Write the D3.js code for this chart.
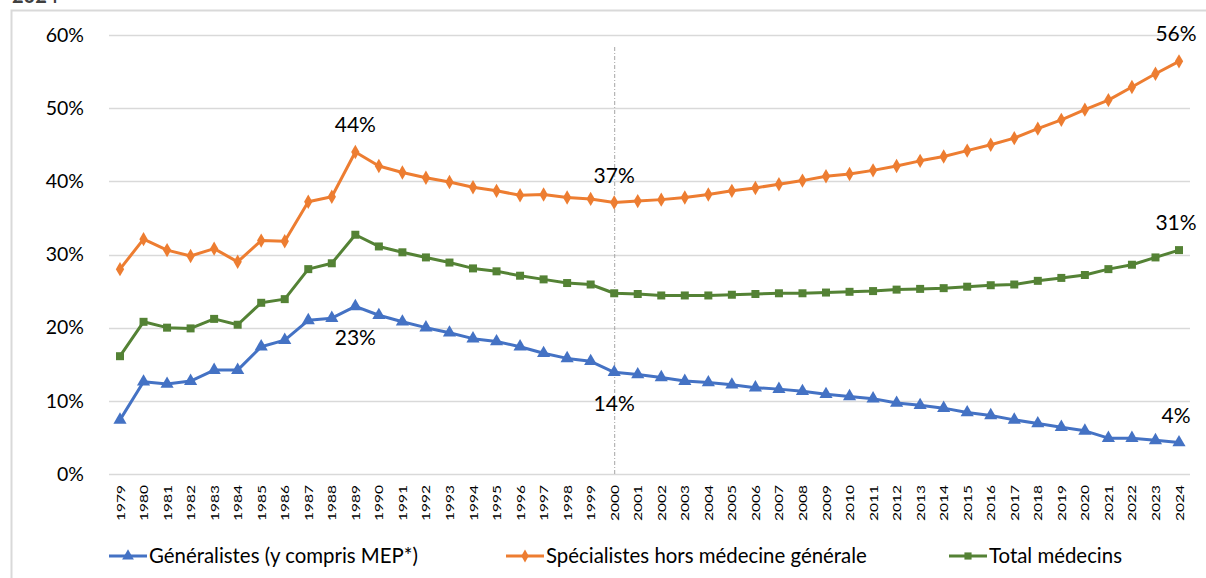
<!DOCTYPE html>
<html>
<head>
<meta charset="utf-8">
<script src="https://cdn.jsdelivr.net/npm/d3@7"></script>
<style>
  html, body { margin: 0; padding: 0; background: #fff; }
  svg { display: block; font-family: Lato, "Open Sans", sans-serif; }
</style>
</head>
<body>
<svg id="chart" width="1206" height="578"></svg>
<script>
const years = d3.range(1979, 2025).map(String);

const generalistes = [7.4, 12.6, 12.3, 12.7, 14.2, 14.2, 17.4, 18.3, 21.0, 21.3,
  22.9, 21.7, 20.8, 20.0, 19.3, 18.5, 18.1, 17.4, 16.5, 15.8,
  15.4, 13.9, 13.6, 13.2, 12.7, 12.5, 12.2, 11.8, 11.6, 11.3,
  10.9, 10.6, 10.3, 9.7, 9.4, 9.0, 8.4, 8.0, 7.4, 6.9,
  6.4, 5.9, 4.9, 4.9, 4.6, 4.3];

const specialistes = [28.0, 32.1, 30.6, 29.8, 30.8, 29.0, 31.9, 31.8, 37.2, 37.9,
  44.0, 42.1, 41.2, 40.5, 39.9, 39.2, 38.7, 38.1, 38.2, 37.8,
  37.6, 37.1, 37.3, 37.5, 37.8, 38.2, 38.7, 39.1, 39.6, 40.1,
  40.7, 41.0, 41.5, 42.1, 42.8, 43.4, 44.2, 45.0, 45.9, 47.2,
  48.4, 49.8, 51.1, 52.9, 54.7, 56.4];

const total = [16.1, 20.8, 20.0, 19.9, 21.2, 20.4, 23.4, 23.9, 28.0, 28.8,
  32.7, 31.1, 30.3, 29.6, 28.9, 28.1, 27.7, 27.1, 26.6, 26.1,
  25.9, 24.7, 24.6, 24.4, 24.4, 24.4, 24.5, 24.6, 24.7, 24.7,
  24.8, 24.9, 25.0, 25.2, 25.3, 25.4, 25.6, 25.8, 25.9, 26.4,
  26.8, 27.2, 28.0, 28.6, 29.6, 30.6];

const yTicks = [0, 10, 20, 30, 40, 50, 60];
const seriesNames = ["Généralistes (y compris MEP*)", "Spécialistes hors médecine générale", "Total médecins"];

// data labels
const annotations = [
  { s: 1, year: "1989", text: "44%", pos: "above" },
  { s: 0, year: "1989", text: "23%", pos: "below" },
  { s: 1, year: "2000", text: "37%", pos: "above" },
  { s: 0, year: "2000", text: "14%", pos: "below" },
  { s: 1, year: "2024", text: "56%", pos: "above" },
  { s: 2, year: "2024", text: "31%", pos: "above" },
  { s: 0, year: "2024", text: "4%", pos: "above" }
];
const refYear = "2000";

const series = [
  { name: seriesNames[0], values: generalistes, color: "#4472C4", symbol: d3.symbolTriangle, size: 75 },
  { name: seriesNames[1], values: specialistes, color: "#ED7D31", symbol: d3.symbolDiamond, size: 60 },
  { name: seriesNames[2], values: total, color: "#548235", symbol: d3.symbolSquare, size: 64 }
];

const svg = d3.select("#chart");

// frame
svg.append("path")
  .attr("d", "M11.5,578 L11.5,10.5 L1206,10.5")
  .attr("fill", "none").attr("stroke", "#d9d9d9").attr("stroke-width", 2);

// cut-off title remnant
svg.append("text").attr("x", 12).attr("y", 3).attr("font-size", 20)
  .attr("font-weight", "bold").attr("fill", "#404040").text("2024");

const plotLeft = 109, plotRight = 1190;
const x = d3.scalePoint().domain(years).range([120, 1179]);
const y = d3.scaleLinear().domain([0, 60]).range([474, 35]);

// gridlines
svg.append("g").selectAll("line").data(yTicks).join("line")
  .attr("x1", plotLeft).attr("x2", plotRight)
  .attr("y1", d => Math.round(y(d)) + 0.5).attr("y2", d => Math.round(y(d)) + 0.5)
  .attr("stroke", "#d9d9d9").attr("stroke-width", 1.5);

// y axis labels
const yAxis = d3.axisLeft(y).tickValues(yTicks).tickFormat(d => d + "%").tickSize(0).tickPadding(0);
const gy = svg.append("g").attr("transform", "translate(84,0)").call(yAxis);
gy.select(".domain").remove();
gy.selectAll("text").attr("font-size", 19.5).attr("fill", "#000").attr("font-family", "Lato, sans-serif");

// x axis labels
const xAxis = d3.axisBottom(x).tickSize(0).tickPadding(0);
const gx = svg.append("g").attr("transform", "translate(0,474)").call(xAxis);
gx.select(".domain").remove();
gx.selectAll("text")
  .attr("font-size", 11.5).attr("fill", "#000").attr("font-family", "Lato, sans-serif")
  .attr("text-anchor", "end")
  .attr("transform", "translate(0,11) rotate(-90) scale(1.35,1)")
  .attr("x", 0).attr("y", 0).attr("dy", "0.35em");

// dashed reference line
svg.append("line")
  .attr("x1", x(refYear) + 0.5).attr("x2", x(refYear) + 0.5)
  .attr("y1", 47).attr("y2", 474)
  .attr("stroke", "#a6a6a6").attr("stroke-width", 1)
  .attr("stroke-dasharray", "4,2,1,2");

// lines + markers
const line = d3.line().x((d, i) => x(years[i])).y(d => y(d));
series.forEach(s => {
  svg.append("path").datum(s.values)
    .attr("d", line).attr("fill", "none")
    .attr("stroke", s.color).attr("stroke-width", 3).attr("stroke-linejoin", "round");
  svg.append("g").selectAll("path").data(s.values).join("path")
    .attr("transform", (d, i) => `translate(${x(years[i])},${y(d)})`)
    .attr("d", d3.symbol().type(s.symbol).size(s.size))
    .attr("fill", s.color);
});

// data labels
svg.append("g").selectAll("text").data(annotations).join("text")
  .attr("x", d => x(d.year) + (d.year === "2024" ? -3 : 0))
  .attr("y", d => {
    const v = series[d.s].values[years.indexOf(d.year)];
    return d.pos === "above" ? y(v) - 20 : y(v) + 39;
  })
  .attr("text-anchor", "middle")
  .attr("font-size", 21).attr("fill", "#000")
  .text(d => d.text);

// legend
const legendX = [109, 506, 949];
const lg = svg.append("g").selectAll("g").data(series).join("g")
  .attr("transform", (d, i) => `translate(${legendX[i]},556)`);
lg.append("line").attr("x1", 0).attr("x2", 38).attr("y1", 0).attr("y2", 0)
  .attr("stroke", d => d.color).attr("stroke-width", 3);
lg.append("path").attr("transform", "translate(19,0)")
  .attr("d", d => d3.symbol().type(d.symbol).size(d.size * 0.8)())
  .attr("fill", d => d.color);
lg.append("text").attr("x", 40).attr("y", 0).attr("dy", "0.35em")
  .attr("font-size", 20.4).attr("fill", "#000")
  .text(d => d.name);
</script>
</body>
</html>
